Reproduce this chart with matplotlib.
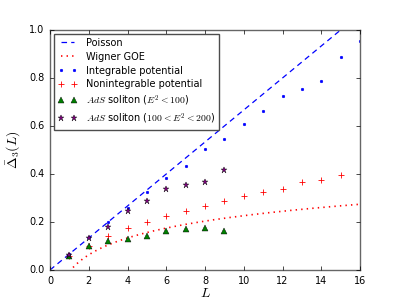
import numpy as np
import matplotlib
matplotlib.use('Agg')
import matplotlib.pyplot as plt

plt.style.use('classic')
plt.rcParams['mathtext.fontset'] = 'cm'
plt.rcParams['font.size'] = 7

# data
L_int = [1, 2, 3, 4, 5, 6, 7, 8, 9, 10, 11, 12, 13, 14, 15, 16]
d_int = [0.067, 0.137, 0.199, 0.257, 0.324, 0.382, 0.435, 0.505, 0.545, 0.61,
         0.662, 0.724, 0.754, 0.787, 0.886, 0.955]

L_non = [1, 2, 3, 4, 5, 6, 7, 8, 9, 10, 11, 12, 13, 14, 15]
d_non = [0.06, 0.10, 0.14, 0.176, 0.199, 0.225, 0.246, 0.267, 0.287, 0.307,
         0.324, 0.336, 0.365, 0.375, 0.396]

L_ads1 = [1, 2, 3, 4, 5, 6, 7, 8, 9]
d_ads1 = [0.058, 0.101, 0.122, 0.128, 0.142, 0.162, 0.17, 0.176, 0.161]

L_ads2 = [1, 2, 3, 4, 5, 6, 7, 8, 9]
d_ads2 = [0.062, 0.135, 0.178, 0.245, 0.286, 0.339, 0.354, 0.368, 0.417]

# theory curves
L = np.linspace(0, 16, 400)
poisson = L / 15.0
Lg = np.linspace(1.0, 16, 400)
goe = (np.log(2 * np.pi * Lg) + np.euler_gamma - 1.25 - np.pi**2 / 8) / np.pi**2

fig = plt.figure(figsize=(4, 3), dpi=100)
ax = fig.add_axes([0.125, 0.1, 0.775, 0.8])

ax.plot(L, poisson, 'b--', lw=0.9, dashes=(4, 3), label='Poisson')
ax.plot(Lg, goe, 'r:', lw=1.2, label='Wigner GOE')
ax.plot(L_int, d_int, 'b.', ms=3.5, label='Integrable potential')
ax.plot(L_non, d_non, 'r+', ms=5, mew=0.6, label='Nonintegrable potential')
ax.plot(L_ads1, d_ads1, '^', color='green', mec='k', mew=0.3, ms=4,
        label=r'$AdS$ soliton ($E^2 < 100$)')
ax.plot(L_ads2, d_ads2, '*', color='purple', mec='k', mew=0.3, ms=5,
        label=r'$AdS$ soliton ($100 < E^2 < 200$)')

ax.set_xlim(0, 16)
ax.set_ylim(0, 1.0)
ax.set_xticks(range(0, 17, 2))
ax.set_yticks([0.0, 0.2, 0.4, 0.6, 0.8, 1.0])
ax.tick_params(labelsize=7, length=3)
for s in ax.spines.values():
    s.set_color('0.4')
ax.set_xlabel(r'$L$', fontsize=10, labelpad=0)
ax.set_ylabel(r'$\bar{\Delta}_3(L)$', fontsize=10)

leg = ax.legend(loc='upper left', numpoints=2, fontsize=7, handlelength=2.0,
                borderpad=0.4, labelspacing=0.4, handletextpad=0.9,
                borderaxespad=0.4)
leg.get_frame().set_edgecolor('0.3')

fig.savefig('out.png', dpi=100)
